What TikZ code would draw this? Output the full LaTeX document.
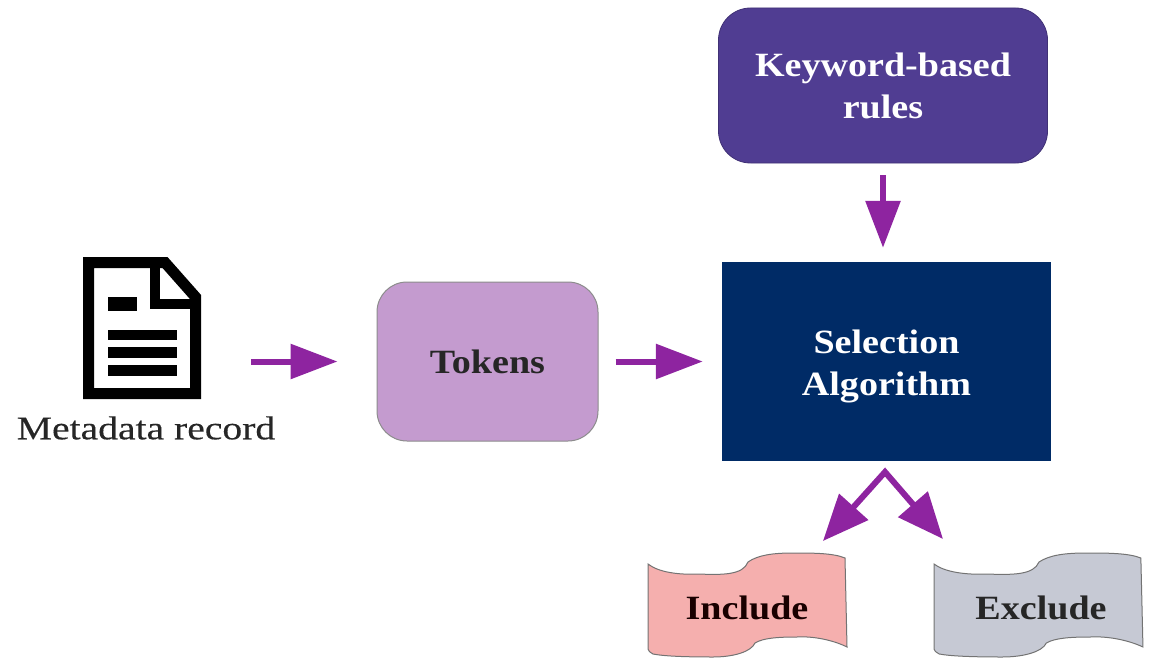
\documentclass[tikz,border=0pt]{standalone}
\usepackage{fontspec}
\setmainfont[FakeStretch=1.12]{Liberation Serif}
\newfontfamily\metafont[FakeStretch=1.2,FakeBold=0.35]{Liberation Serif}
\usetikzlibrary{arrows.meta}
\definecolor{flowc}{HTML}{8E24A0}
\definecolor{rulec}{HTML}{503D92}
\definecolor{tokc}{HTML}{C49BCF}
\definecolor{algoc}{HTML}{002B66}
\definecolor{incc}{HTML}{F5AFAE}
\definecolor{excc}{HTML}{C6C9D4}
\newcommand{\bannerpath}[3]{% x offset, x scale, fill
  \draw[fill=#3,draw=black!55,line width=1pt,xshift=#1pt,xscale=#2]
    (0,564) .. controls (10,572) and (30,575) .. (50,574)
    .. controls (75,575) and (95,575) .. (100,562)
    .. controls (110,555) and (125,553) .. (145,553)
    .. controls (165,553) and (185,553) .. (197,558)
    -- (199,647)
    .. controls (185,640) and (165,636) .. (149,637)
    .. controls (130,637) and (115,638) .. (107,643)
    .. controls (103,652) and (85,657) .. (65,657)
    .. controls (35,657) and (15,656) .. (5,654)
    .. controls (2,652) and (0,651) .. (0,649) -- cycle;}
\tikzset{
  x=1pt,y=-1pt,
  flow/.style={draw=flowc,line width=6pt,-{Triangle[length=47pt,width=34pt,fill=flowc]}},
  forkflow/.style={draw=flowc,line width=6pt,line join=miter,{Triangle[length=46pt,width=38pt,fill=flowc]}-{Triangle[length=46pt,width=38pt,fill=flowc]}},
  lab/.style={font=\fontsize{34}{41}\selectfont\bfseries,align=center,inner sep=0pt},
  blabel/.style={lab,text=black!85},
  wlabel/.style={lab,text=white},
}
\begin{document}
\begin{tikzpicture}
\useasboundingbox (0,0) rectangle (1153,658);
% document icon
\draw[black,line width=11pt,line join=miter] (88.5,262.5) -- (165,262.5) -- (195.5,297) -- (195.5,393.5) -- (88.5,393.5) -- cycle;
\draw[black,line width=10pt,line join=miter] (155,262) -- (155,304) -- (196,304);
\fill[black] (108,297) rectangle (137,311);
\fill[black] (108,330) rectangle (177,340);
\fill[black] (108,347) rectangle (177,358);
\fill[black] (108,365) rectangle (177,376);
\node[inner sep=0pt,align=center,font=\fontsize{33}{40}\selectfont\metafont,text=black!85] (meta) at (146,428) {Metadata record};
\coordinate (docout) at (251,361.5);
% boxes
\node[wlabel,draw=rulec!80!black,line width=.8pt,fill=rulec,rounded corners=32pt,minimum width=329pt,minimum height=155pt] (rules) at (883,85.5) {Keyword-based\\[1pt]rules};
\node[blabel,draw=black!45,line width=1pt,fill=tokc,rounded corners=30pt,minimum width=221pt,minimum height=159pt] (tokens) at (487.5,361.5) {Tokens};
\node[draw=none,fill=algoc,minimum width=329pt,minimum height=199pt] (algo) at (886.5,361.5) {};
\node[wlabel] (algotext) at (886.5,366) {Selection\\[1pt]Algorithm};
% banners
\bannerpath{648}{1}{incc}
\bannerpath{934}{1.05}{excc}
\node[blabel,text=black!90!red] (inc) at (747,608) {Include};
\node[blabel] (exc) at (1041,608) {Exclude};
% connectors
\coordinate (fork) at (885,472);
\coordinate (tipL) at (823,541);
\coordinate (tipR) at (943,539);
\draw[flow] (docout) -- ([xshift=-39pt]tokens.west);
\draw[flow] ([xshift=17pt]tokens.east) -- ([xshift=-19pt]algo.west);
\draw[flow] ([yshift=-12pt]rules.south) -- ([yshift=14pt,xshift=-3.5pt]algo.north);
\draw[forkflow] (tipL) -- (fork) -- (tipR);
\end{tikzpicture}
\end{document}
